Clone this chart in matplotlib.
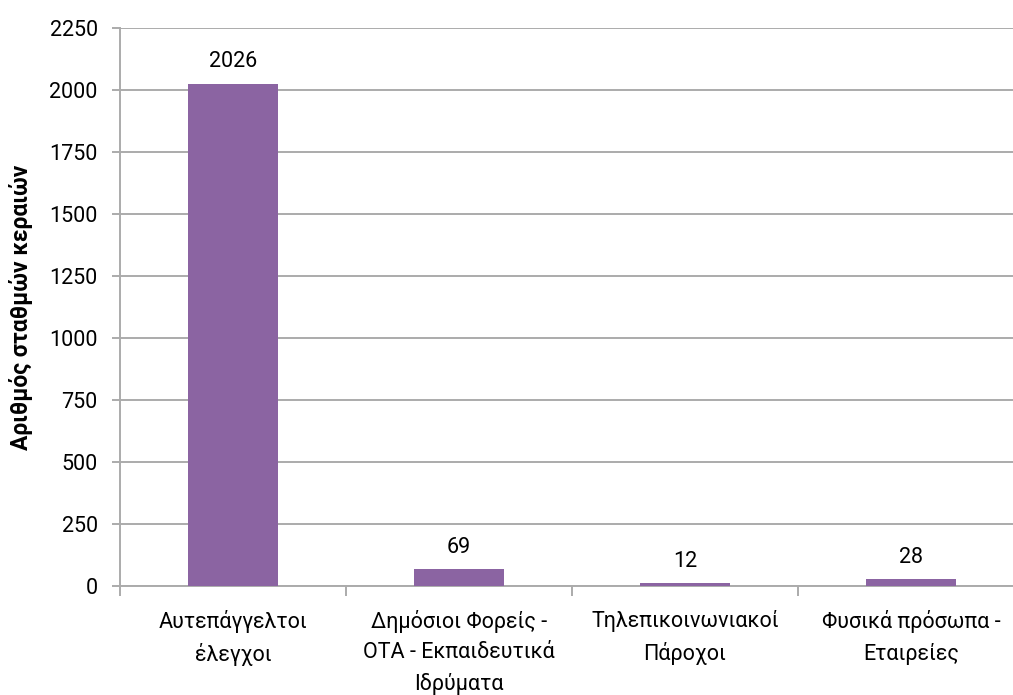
import matplotlib
matplotlib.use("Agg")
import matplotlib.pyplot as plt
from matplotlib.ticker import FixedLocator

categories = [
    "Αυτεπάγγελτοι\nέλεγχοι",
    "Δημόσιοι Φορείς -\nΟΤΑ - Εκπαιδευτικά\nΙδρύματα",
    "Τηλεπικοινωνιακοί\nΠάροχοι",
    "Φυσικά πρόσωπα -\nΕταιρείες",
]
values = [2026, 69, 12, 28]
y_ticks = [0, 250, 500, 750, 1000, 1250, 1500, 1750, 2000, 2250]
y_label = "Αριθμός σταθμών κεραιών"

plt.rcParams["font.family"] = ["Roboto", "DejaVu Sans"]

fig = plt.figure(figsize=(10.13, 6.95), dpi=100)
ax = fig.add_axes([120 / 1013, 109 / 695, 904 / 1013, 558 / 695])

bar_color = "#8B64A2"
grid_color = "#ABABAB"
fs = 15.5

x = list(range(len(categories)))
ax.bar(x, values, width=0.4, color=bar_color, zorder=3)

for xi, v in zip(x, values):
    ax.annotate(str(v), (xi, v), xytext=(0, 8), textcoords="offset points",
                ha="center", va="bottom", fontsize=fs, color="#000000")

ax.set_xlim(-0.5, len(categories) - 0.5)
ax.set_ylim(0, 2250)
ax.yaxis.set_major_locator(FixedLocator(y_ticks))
ax.yaxis.grid(True, color=grid_color, linewidth=1.4, zorder=0)
ax.set_axisbelow(True)

# category labels centred on bars, tick marks at category boundaries
ax.set_xticks(x)
ax.set_xticklabels(categories, fontsize=fs, linespacing=1.6)
ax.tick_params(axis="x", which="major", length=0, pad=17)
ax.xaxis.set_minor_locator(FixedLocator([i - 0.5 for i in range(len(categories) + 1)]))
ax.tick_params(axis="x", which="minor", length=7, width=1.4, color=grid_color, direction="out")

ax.tick_params(axis="y", length=6, width=1.4, color=grid_color, labelsize=fs, pad=10)

for s in ["top", "right"]:
    ax.spines[s].set_visible(False)
for s in ["left", "bottom"]:
    ax.spines[s].set_color(grid_color)
    ax.spines[s].set_linewidth(1.4)

ax.set_ylabel(y_label, fontsize=16.5, fontweight="bold", labelpad=12)

fig.savefig("out.png", dpi=100)
